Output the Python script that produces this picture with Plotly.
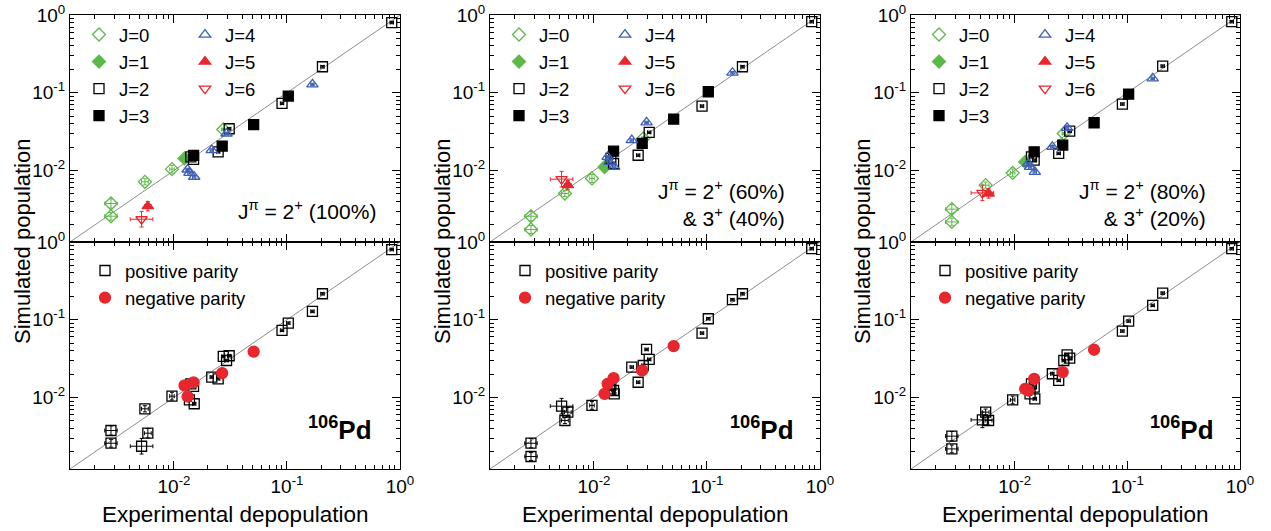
import numpy as np
import plotly.graph_objects as go
from plotly.subplots import make_subplots

# ---------------- data ----------------
# experimental depopulation (common to all columns)
x_exp = [0.845, 0.206, 0.168, 0.1027, 0.0904, 0.0507, 0.0308, 0.0273, 0.0292, 0.0267,
         0.0246, 0.0216, 0.0124, 0.0149, 0.0141, 0.0149, 0.0132, 0.0137, 0.0151, 0.0096,
         0.00553, 0.00587, 0.00517, 0.00277, 0.00277]
spin = [2, 2, 4, 3, 2, 3, 2, 0, 4, 3, 2, 4, 1, 3, 2, 2, 4, 4, 4, 0, 0, 5, 6, 0, 0]
parity = ["+", "+", "+", "+", "+", "-", "+", "+", "+", "-", "+", "+", "-", "-", "+", "+",
          "-", "+", "+", "+", "+", "+", "+", "+", "+"]
# simulated population for the three spin-distribution assumptions
y_sim_100 = [0.80, 0.216, 0.128, 0.0906, 0.073, 0.039, 0.0344, 0.0337, 0.0299, 0.0206,
             0.0174, 0.0183, 0.0143, 0.0156, 0.0150, 0.0139, 0.0103, 0.0093, 0.0083, 0.0104,
             0.00715, 0.00347, 0.00236, 0.00376, 0.00258]
y_sim_60 = [0.82, 0.216, 0.181, 0.103, 0.0673, 0.0458, 0.0309, 0.0258, 0.0415, 0.0223,
            0.0157, 0.0246, 0.0111, 0.0177, 0.0143, 0.0123, 0.0150, 0.0129, 0.0111, 0.0079,
            0.00506, 0.00648, 0.00773, 0.00258, 0.00174]
y_sim_80 = [0.82, 0.22, 0.153, 0.096, 0.0715, 0.0411, 0.0321, 0.0299, 0.0354, 0.0212,
            0.0166, 0.0202, 0.0129, 0.0174, 0.0150, 0.0136, 0.0123, 0.0111, 0.0096, 0.0093,
            0.00648, 0.00506, 0.00515, 0.00318, 0.00218]
# uncertainties (in decades)
x_err_dex = [0.015, 0.015, 0.015, 0.015, 0.015, 0.04, 0.015, 0.015, 0.015, 0.015,
             0.015, 0.015, 0.015, 0.015, 0.015, 0.015, 0.015, 0.015, 0.015, 0.02,
             0.03, 0.03, 0.10, 0.055, 0.055]
y_err_dex = [0.015, 0.015, 0.015, 0.015, 0.015, 0.015, 0.015, 0.015, 0.015, 0.015,
             0.015, 0.015, 0.015, 0.015, 0.015, 0.015, 0.015, 0.015, 0.015, 0.05,
             0.04, 0.06, 0.10, 0.06, 0.05]

panel_labels = ["J<sup>π</sup> = 2<sup>+</sup> (100%)",
                "J<sup>π</sup> = 2<sup>+</sup> (60%)<br>& 3<sup>+</sup> (40%)",
                "J<sup>π</sup> = 2<sup>+</sup> (80%)<br>& 3<sup>+</sup> (20%)"]
nucleus_label = "<b><sup>106</sup>Pd</b>"
tick_vals = [1e-2, 1e-1, 1]
tick_text = ["10<sup>-2</sup>", "10<sup>-1</sup>", "10<sup>0</sup>"]
axis_min_log = -2.92

# ---------------- styles ----------------
GREEN = "#5cb947"
BLUE = "#3d5fb5"
RED = "#e8262d"
spin_style = {
    0: dict(symbol="diamond-open", color=GREEN, size=10),
    1: dict(symbol="diamond", color=GREEN, size=10),
    2: dict(symbol="square-open", color="black", size=10),
    3: dict(symbol="square", color="black", size=10),
    4: dict(symbol="triangle-up-open", color=BLUE, size=10),
    5: dict(symbol="triangle-up", color=RED, size=10),
    6: dict(symbol="triangle-down-open", color=RED, size=10),
}
parity_style = {
    "+": dict(symbol="square-open", color="black", size=10, name="positive parity"),
    "-": dict(symbol="circle", color=RED, size=11, name="negative parity"),
}

W, H = 1271, 531
col_left = [70, 490, 911]
col_right = [400, 820, 1240]
col_off = [0, 420, 840]
row_top = [15, 242]
row_bot = [242, 469]


def px(x):
    return x / W


def py(y):
    return 1 - y / H


fig = make_subplots(rows=2, cols=3)

x_arr = np.array(x_exp)
xe_p = x_arr * (10 ** np.array(x_err_dex) - 1)
xe_m = x_arr * (1 - 10 ** (-np.array(x_err_dex)))

sims = [y_sim_100, y_sim_60, y_sim_80]
FONT = "Liberation Sans, Arial, Helvetica, sans-serif"

for c, ysim in enumerate(sims):
    y_arr = np.array(ysim)
    ye_p = y_arr * (10 ** np.array(y_err_dex) - 1)
    ye_m = y_arr * (1 - 10 ** (-np.array(y_err_dex)))
    lo = 10 ** axis_min_log
    for r in (1, 2):
        fig.add_trace(go.Scatter(x=[lo, 1], y=[lo, 1], mode="lines",
                                 line=dict(color="#8c8c8c", width=1),
                                 showlegend=False, hoverinfo="skip"), row=r, col=c + 1)
    # top: by spin
    for j in range(7):
        idx = [i for i, s in enumerate(spin) if s == j]
        st = spin_style[j]
        leg = f"legend{2 * c + 1}" if j <= 3 else f"legend{2 * c + 2}"
        if leg == "legend1":
            leg = "legend"
        fig.add_trace(go.Scatter(
            x=x_arr[idx], y=y_arr[idx], mode="markers", name=f"J={j}",
            legend=leg, legendgroup=f"c{c}j{j}",
            marker=dict(symbol=st["symbol"], color=st["color"], size=st["size"],
                        line=dict(color=st["color"], width=1.3)),
            error_x=dict(type="data", array=xe_p[idx], arrayminus=xe_m[idx],
                         color=st["color"], thickness=1, width=2),
            error_y=dict(type="data", array=ye_p[idx], arrayminus=ye_m[idx],
                         color=st["color"], thickness=1, width=2),
        ), row=1, col=c + 1)
    # bottom: by parity
    for p in ("+", "-"):
        idx = [i for i, s in enumerate(parity) if s == p]
        st = parity_style[p]
        fig.add_trace(go.Scatter(
            x=x_arr[idx], y=y_arr[idx], mode="markers", name=st["name"],
            legend=f"legend{7 + c}", legendgroup=f"c{c}p{p}",
            marker=dict(symbol=st["symbol"], color=st["color"], size=st["size"],
                        line=dict(color=st["color"], width=1.3)),
            error_x=dict(type="data", array=xe_p[idx], arrayminus=xe_m[idx],
                         color=st["color"], thickness=1, width=2),
            error_y=dict(type="data", array=ye_p[idx], arrayminus=ye_m[idx],
                         color=st["color"], thickness=1, width=2),
        ), row=2, col=c + 1)

axis_common = dict(type="log", range=[axis_min_log, 0], showgrid=False, zeroline=False,
                   showline=True, linecolor="black", linewidth=1, mirror="allticks",
                   ticks="inside", ticklen=8, tickcolor="black", tickwidth=1,
                   tickvals=tick_vals, ticktext=tick_text, automargin=False,
                   tickfont=dict(size=19, color="black", family=FONT),
                   minor=dict(ticks="inside", ticklen=4, tickcolor="black", tickwidth=1,
                              dtick="D1", showgrid=False))

for r in (1, 2):
    for c in range(3):
        fig.update_xaxes(axis_common, domain=[px(col_left[c]), px(col_right[c])],
                         showticklabels=(r == 2), row=r, col=c + 1)
        fig.update_yaxes(axis_common, domain=[py(row_bot[r - 1]), py(row_top[r - 1])],
                         row=r, col=c + 1)

annotations = []
for c in range(3):
    off = col_off[c]
    annotations.append(dict(text="Simulated population", x=px(off + 22), y=py(242),
                            xref="paper", yref="paper", textangle=-90, showarrow=False,
                            xanchor="center", yanchor="middle",
                            font=dict(size=22, color="black", family=FONT)))
    annotations.append(dict(text="Experimental depopulation", x=px(off + 235), y=py(514),
                            xref="paper", yref="paper", showarrow=False,
                            xanchor="center", yanchor="middle",
                            font=dict(size=22.5, color="black", family=FONT)))
    annotations.append(dict(text=panel_labels[c], x=px([378, 787, 1208][c]),
                            y=py(210 if c == 0 else 203),
                            xref="paper", yref="paper", showarrow=False, align="right",
                            xanchor="right", yanchor="middle",
                            font=dict(size=21, color="black", family=FONT)))
    annotations.append(dict(text=nucleus_label, x=px([374, 796, 1216][c]), y=py(428),
                            xref="paper", yref="paper", showarrow=False,
                            xanchor="right", yanchor="middle",
                            font=dict(size=26, color="black", family=FONT)))

legend_base = dict(xanchor="left", yanchor="top", bgcolor="rgba(0,0,0,0)",
                   borderwidth=0, font=dict(size=18.5, color="black", family=FONT),
                   tracegroupgap=0, itemsizing="trace")
legends = {}
for c in range(3):
    off = col_off[c]
    ka = "legend" if c == 0 else f"legend{2 * c + 1}"
    legends[ka] = dict(legend_base, x=px(off + 79), y=py(16))
    legends[f"legend{2 * c + 2}"] = dict(legend_base, x=px(off + 185), y=py(16))
    legends[f"legend{7 + c}"] = dict(legend_base, x=px(off + 85), y=py(252))

fig.update_layout(width=W, height=H, margin=dict(l=0, r=0, t=0, b=0),
                  plot_bgcolor="white", paper_bgcolor="white",
                  font=dict(family=FONT, color="black"),
                  annotations=annotations, showlegend=True, **legends)

fig.write_html("out.html", config={"displayModeBar": False},
               post_script="document.body.style.margin='0px';")
